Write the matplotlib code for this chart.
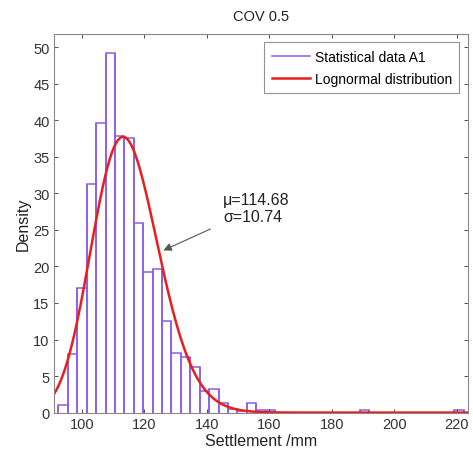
import numpy as np
import matplotlib
matplotlib.use("Agg")
import matplotlib.pyplot as plt

plt.rcParams['font.family'] = ['Liberation Sans', 'DejaVu Sans']

# histogram of settlement (43 bins)
bin_start = 92.48
bin_width = 3.018
heights = [1.0, 8.0, 17.0, 31.3, 39.6, 49.2, 37.9, 37.6, 25.9, 19.3,
           19.6, 12.5, 8.2, 7.6, 6.2, 3.0, 3.2, 1.3, 0.5, 0.2,
           1.3, 0.3, 0.3, 0.0, 0.0, 0.0, 0.0, 0.0, 0.0, 0.0,
           0.0, 0.0, 0.3, 0.0, 0.0, 0.0, 0.0, 0.0, 0.0, 0.0,
           0.0, 0.0, 0.3]

mu_x = 114.68
sigma_x = 10.74
area = 1005.0

xticks = [100, 120, 140, 160, 180, 200, 220]
yticks = [0, 5, 10, 15, 20, 25, 30, 35, 40, 45, 50]

purple = '#8B5CE6'
red = '#E81E1E'

fig = plt.figure(figsize=(4.73, 4.56), dpi=100)
ax = fig.add_axes([0.115, 0.093, 0.874, 0.830])

edges = bin_start + bin_width * np.arange(len(heights) + 1)
ax.stairs(heights, edges, color=purple, linewidth=1.1, label='Statistical data A1')
# vertical lines between bars
for i, h in enumerate(heights):
    if h > 0:
        ax.vlines([edges[i], edges[i + 1]], 0, h, color=purple, linewidth=1.1)

s_ln = np.sqrt(np.log(1 + (sigma_x / mu_x) ** 2))
m_ln = np.log(mu_x) - s_ln ** 2 / 2
xs = np.linspace(91.2, 223.6, 600)
pdf = np.exp(-(np.log(xs) - m_ln) ** 2 / (2 * s_ln ** 2)) / (xs * s_ln * np.sqrt(2 * np.pi))
ax.plot(xs, pdf * area, color=red, linewidth=1.8, label='Lognormal distribution')

ax.set_xlim(91.2, 223.6)
ax.set_ylim(0, 51.8)
ax.set_xticks(xticks)
ax.set_yticks(yticks)
ax.tick_params(direction='in', top=True, right=True, labelsize=10.5,
               colors='#333333', length=3, width=0.6)
for sp in ax.spines.values():
    sp.set_color('#888888')
    sp.set_linewidth(0.8)

ax.annotate('μ=114.68\nσ=10.74', xy=(126.1, 22.2), xytext=(145.3, 28.0),
            fontsize=11.5, color='#222222', va='center', ha='left',
            arrowprops=dict(arrowstyle='-|>', color='#555555', lw=0.8,
                            shrinkA=8, shrinkB=0, mutation_scale=12))

ax.set_title('COV 0.5', fontsize=10.5, color='#222222', pad=10)
ax.set_xlabel('Settlement /mm', fontsize=11.5, color='#222222', labelpad=1)
ax.set_ylabel('Density', fontsize=11.5, color='#222222', labelpad=2)

leg = ax.legend(loc='upper right', fontsize=10, fancybox=False,
                edgecolor='#777777', borderaxespad=0.6, handlelength=2.8,
                borderpad=0.55, labelspacing=0.55, handletextpad=0.3)
leg.get_frame().set_linewidth(0.8)

fig.savefig('out.png', dpi=100)
